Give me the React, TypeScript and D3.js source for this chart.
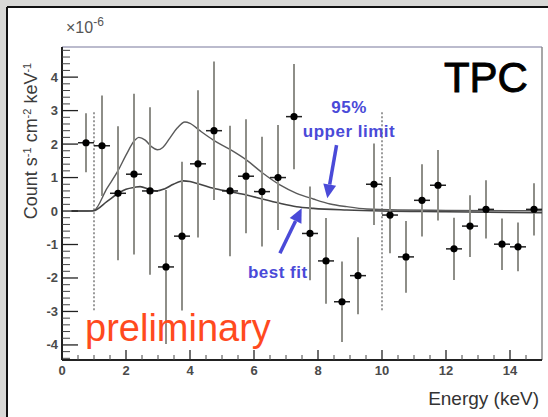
import React from "react";
import * as d3 from "d3";

// Measured flux per 0.5 keV bin (units of 1e-6 counts s^-1 cm^-2 keV^-1)
const binCenters = [
  0.75, 1.25, 1.75, 2.25, 2.75, 3.25, 3.75, 4.25, 4.75, 5.25, 5.75, 6.25, 6.75, 7.25, 7.75,
  8.25, 8.75, 9.25, 9.75, 10.25, 10.75, 11.25, 11.75, 12.25, 12.75, 13.25, 13.75, 14.25, 14.75,
];
const fluxValues = [
  2.04, 1.95, 0.53, 1.1, 0.6, -1.67, -0.75, 1.41, 2.4, 0.6, 1.04, 0.58, 1.0, 2.82, -0.67,
  -1.49, -2.71, -1.93, 0.8, -0.12, -1.37, 0.32, 0.77, -1.13, -0.45, 0.05, -0.99, -1.07, 0.05,
];
const fluxErrors = [
  0.88, 1.5, 2.0, 2.4, 2.5, 2.3, 2.22, 2.2, 2.07, 1.95, 1.7, 1.64, 1.57, 1.57, 1.4,
  1.28, 1.2, 1.15, 1.22, 1.14, 1.07, 1.08, 1.05, 0.93, 0.92, 0.87, 0.77, 0.73, 0.78,
];
const binHalfWidth = 0.25;

// Model curves: 95% upper limit and best fit
const upperEnergy = [
  0.3, 0.8, 1.0, 1.4, 1.76, 2.0, 2.28, 2.4, 2.6, 2.8, 2.98, 3.15, 3.37, 3.6, 3.84, 4.0, 4.31,
  4.73, 5.25, 5.77, 6.29, 6.81, 7.33, 7.85, 8.38, 8.9, 9.52, 10.5, 12, 15,
];
const upperValue = [
  0, 0, 0.02, 0.67, 1.22, 1.67, 2.12, 2.2, 2.12, 1.92, 1.83, 1.9, 2.18, 2.48, 2.66, 2.62, 2.4,
  2.12, 1.84, 1.52, 1.12, 0.78, 0.53, 0.36, 0.21, 0.13, 0.06, 0.03, 0.02, 0.01,
];
const fitEnergy = [
  0.3, 0.9, 1.0, 1.4, 1.76, 2.0, 2.28, 2.44, 2.75, 2.96, 3.2, 3.48, 3.79, 4.0, 4.31, 4.73,
  5.25, 5.77, 6.29, 6.81, 7.33, 7.85, 8.9, 10, 12, 15,
];
const fitValue = [
  0, 0, 0.01, 0.28, 0.53, 0.65, 0.71, 0.73, 0.64, 0.6, 0.66, 0.8, 0.9, 0.88, 0.8, 0.68,
  0.58, 0.48, 0.35, 0.23, 0.13, 0.08, 0.03, 0.0, -0.02, -0.05,
];

// Analysis window boundaries (keV)
const windowEdges = [1, 10];
const windowTop = 2.95;
const windowBottom = -3.0;

const xTickLabels = [0, 2, 4, 6, 8, 10, 12, 14];
const yTickLabels = [-4, -3, -2, -1, 0, 1, 2, 3, 4];

const W = 548;
const H = 417;
const left = 62;
const right = 542;
const top = 47;
const bottom = 360;

const blue = "#4a4ad8";
const font = "'Liberation Sans', Arial, Helvetica, sans-serif";

function Arrow({ x1, y1, x2, y2 }: { x1: number; y1: number; x2: number; y2: number }) {
  const ang = Math.atan2(y2 - y1, x2 - x1);
  const headLen = 14;
  const headHalf = 6.5;
  const bx = x2 - headLen * Math.cos(ang);
  const by = y2 - headLen * Math.sin(ang);
  const px = -Math.sin(ang) * headHalf;
  const py = Math.cos(ang) * headHalf;
  return (
    <g>
      <line x1={x1} y1={y1} x2={bx} y2={by} stroke={blue} strokeWidth={3.5} />
      <polygon points={`${x2},${y2} ${bx + px},${by + py} ${bx - px},${by - py}`} fill={blue} />
    </g>
  );
}

export default function App() {
  const x = d3.scaleLinear().domain([0, 15]).range([left, right]);
  const y = d3.scaleLinear().domain([-4.45, 4.9]).range([bottom, top]);

  const line = d3
    .line<[number, number]>()
    .x((d) => x(d[0]))
    .y((d) => y(d[1]))
    .curve(d3.curveMonotoneX);

  const upperPath = line(upperEnergy.map((e, i) => [e, upperValue[i]] as [number, number])) || "";
  const fitPath = line(fitEnergy.map((e, i) => [e, fitValue[i]] as [number, number])) || "";

  const yMinor = d3.range(-44, 49, 2).map((v) => v / 10).filter((v) => Math.abs(v - Math.round(v)) > 1e-6);
  const xMinor = d3.range(1, 30).map((v) => v / 2).filter((v) => v % 2 !== 0);

  const sup = { fontSize: 11, baselineShift: "super" } as React.CSSProperties;

  return (
    <svg
      width={W}
      height={H}
      style={{ position: "absolute", left: 0, top: 0, display: "block" }}
      fontFamily={font}
    >
      <rect x={0} y={0} width={W} height={H} fill="#d8d8d6" />
      <rect x={7} y={7} width={W} height={H} fill="#ffffff" />
      <line x1={7} y1={7} x2={W} y2={7} stroke="#111" strokeWidth={2} />
      <line x1={7} y1={7} x2={7} y2={H} stroke="#111" strokeWidth={2} />

      {/* frame */}
      <line x1={left} y1={top} x2={right} y2={top} stroke="#a4a4bc" strokeWidth={1.5} />
      <line x1={right} y1={top} x2={right} y2={bottom} stroke="#8a8a8a" strokeWidth={1.5} />

      {/* window edges */}
      {windowEdges.map((e) => (
        <line
          key={e}
          x1={x(e)}
          x2={x(e)}
          y1={y(windowTop)}
          y2={y(windowBottom)}
          stroke="#666"
          strokeWidth={1.3}
          strokeDasharray="2,2"
        />
      ))}

      {/* model curves */}
      <path d={upperPath} fill="none" stroke="#5a5a5a" strokeWidth={1.4} />
      <path d={fitPath} fill="none" stroke="#444" strokeWidth={1.6} />

      {/* data points */}
      {binCenters.map((e, i) => {
        const v = fluxValues[i];
        const err = fluxErrors[i];
        return (
          <g key={i}>
            <line x1={x(e)} x2={x(e)} y1={y(v + err)} y2={y(v - err)} stroke="#8e8e88" strokeWidth={2} />
            <line
              x1={x(e - binHalfWidth)}
              x2={x(e + binHalfWidth)}
              y1={y(v)}
              y2={y(v)}
              stroke="#222"
              strokeWidth={1.5}
            />
            <circle cx={x(e)} cy={y(v)} r={3.6} fill="#000" />
          </g>
        );
      })}

      {/* y axis */}
      <line x1={left} y1={top} x2={left} y2={bottom} stroke="#222" strokeWidth={2} />
      {yMinor.map((v) => (
        <line key={v} x1={left} x2={left + 8} y1={y(v)} y2={y(v)} stroke="#444" strokeWidth={1} />
      ))}
      {yTickLabels.map((v) => (
        <g key={v}>
          <line x1={left} x2={left + 16} y1={y(v)} y2={y(v)} stroke="#222" strokeWidth={1.3} />
          <text
            x={left - 4}
            y={y(v) + 4.5}
            textAnchor="end"
            fontSize={13}
            fontWeight="bold"
            fill="#4a4a4a"
          >
            {v}
          </text>
        </g>
      ))}

      {/* x axis */}
      <line x1={left} y1={bottom} x2={right} y2={bottom} stroke="#222" strokeWidth={2} />
      {xMinor.map((v) => (
        <line key={v} x1={x(v)} x2={x(v)} y1={bottom} y2={bottom - 5} stroke="#444" strokeWidth={1} />
      ))}
      {xTickLabels.map((v) => (
        <g key={v}>
          <line x1={x(v)} x2={x(v)} y1={bottom} y2={bottom - 10} stroke="#222" strokeWidth={1.3} />
          <text x={x(v)} y={bottom + 15} textAnchor="middle" fontSize={13} fontWeight="bold" fill="#4a4a4a">
            {v}
          </text>
        </g>
      ))}

      {/* axis titles */}
      <text x={66} y={33} fontSize={16} fill="#555">
        ×10<tspan style={{ fontSize: 12, baselineShift: "super" } as React.CSSProperties}>-6</tspan>
      </text>
      <text
        transform={`translate(37, 141) rotate(-90)`}
        textAnchor="middle"
        fontSize={18}
        fill="#3c3c3c"
      >
        Count s<tspan style={sup}>-1</tspan> cm<tspan style={sup}>-2</tspan> keV<tspan style={sup}>-1</tspan>
      </text>
      <text x={539} y={405} textAnchor="end" fontSize={19} fill="#333">
        Energy (keV)
      </text>

      {/* labels */}
      <text
        x={x(14.56)}
        y={y(3.55)}
        textAnchor="end"
        fontSize={42}
        fill="#000"
        stroke="#000"
        strokeWidth={0.9}
      >
        TPC
      </text>
      <text x={x(0.72)} y={y(-3.88)} fontSize={38} fill="#ff4a1e">
        preliminary
      </text>
      <text x={x(8.97)} y={y(2.93)} textAnchor="middle" fontSize={17} fontWeight="bold" fill={blue} letterSpacing={0.5}>
        95%
      </text>
      <text x={x(8.97)} y={y(2.22)} textAnchor="middle" fontSize={17} fontWeight="bold" fill={blue} letterSpacing={0.5}>
        upper limit
      </text>
      <text x={x(5.81)} y={y(-2.0)} fontSize={17} fontWeight="bold" fill={blue} letterSpacing={0.5}>
        best fit
      </text>
      <Arrow x1={x(8.58)} y1={y(1.97)} x2={x(8.29)} y2={y(0.38)} />
      <Arrow x1={x(6.81)} y1={y(-1.26)} x2={x(7.49)} y2={y(0.08)} />
    </svg>
  );
}
